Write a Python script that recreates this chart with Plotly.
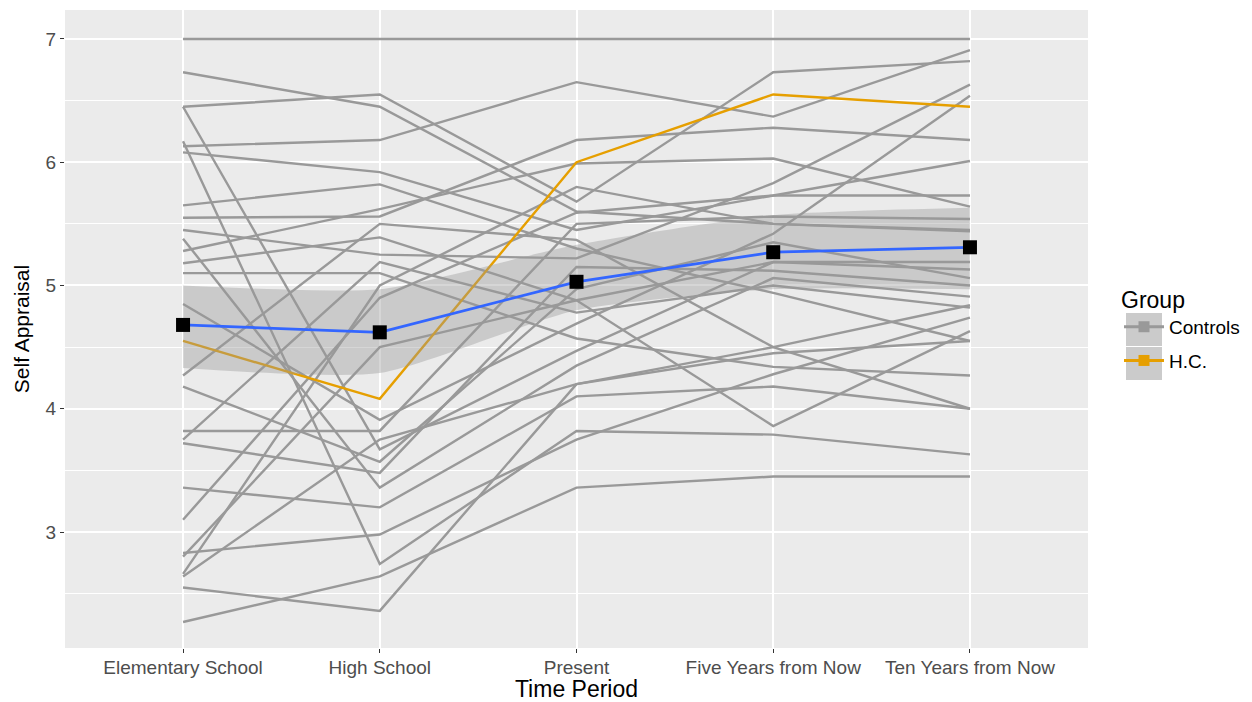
import plotly.graph_objects as go

time_periods = ["Elementary School", "High School", "Present",
                "Five Years from Now", "Ten Years from Now"]

# Self-appraisal of each control participant at the five time periods
controls = [
    [7.00, 7.00, 7.00, 7.00, 7.00],
    [6.73, 6.45, 5.60, 5.50, 5.45],
    [6.45, 6.55, 5.68, 6.73, 6.82],
    [6.45, 3.67, 4.47, 5.19, 5.13],
    [6.17, 2.74, 3.82, 3.79, 3.63],
    [6.13, 6.18, 6.65, 6.37, 6.91],
    [6.08, 5.92, 5.45, 5.73, 5.73],
    [5.65, 5.82, 5.30, 4.94, 4.55],
    [5.55, 5.56, 6.18, 6.28, 6.18],
    [5.45, 5.25, 5.22, 5.83, 6.63],
    [5.38, 3.36, 4.35, 5.06, 4.91],
    [5.28, 5.62, 5.99, 6.03, 5.64],
    [5.18, 5.39, 4.88, 3.86, 4.63],
    [5.10, 5.10, 4.57, 4.34, 4.27],
    [4.85, 3.91, 4.69, 5.42, 6.54],
    [4.27, 5.50, 5.37, 4.50, 4.00],
    [4.18, 3.57, 4.97, 5.35, 5.06],
    [3.82, 3.82, 5.50, 5.56, 5.54],
    [3.75, 5.19, 4.78, 5.00, 4.82],
    [3.72, 3.48, 5.15, 5.12, 5.00],
    [3.36, 3.20, 4.10, 4.18, 4.00],
    [3.10, 4.90, 5.59, 5.73, 6.01],
    [2.83, 2.98, 3.75, 4.28, 4.74],
    [2.80, 4.50, 4.88, 5.19, 5.19],
    [2.66, 5.00, 5.80, 5.50, 5.44],
    [2.64, 3.75, 4.20, 4.50, 4.84],
    [2.55, 2.36, 4.20, 4.45, 4.55],
    [2.27, 2.64, 3.36, 3.45, 3.45],
]

hc_values = [4.55, 4.08, 6.00, 6.55, 6.45]

mean_values = [4.68, 4.62, 5.03, 5.27, 5.31]
ci_lower = [4.33, 4.29, 4.80, 4.97, 4.97]
ci_upper = [5.00, 4.97, 5.33, 5.57, 5.63]

GRAY = "#999999"
ORANGE = "#E69F00"
BLUE = "#3366FF"
FONT = "Liberation Sans, Arial, Helvetica, sans-serif"

fig = go.Figure()

for vals in controls:
    fig.add_trace(go.Scatter(x=time_periods, y=vals, mode="lines",
                             line=dict(color=GRAY, width=2.4),
                             showlegend=False, hoverinfo="skip"))

fig.add_trace(go.Scatter(x=time_periods, y=hc_values, mode="lines",
                         line=dict(color=ORANGE, width=2.4),
                         showlegend=False, hoverinfo="skip"))

# confidence ribbon of the smooth
fig.add_trace(go.Scatter(x=time_periods, y=ci_upper, mode="lines",
                         line=dict(width=0, shape="spline", smoothing=0.6),
                         showlegend=False, hoverinfo="skip"))
fig.add_trace(go.Scatter(x=time_periods, y=ci_lower, mode="lines",
                         line=dict(width=0, shape="spline", smoothing=0.6),
                         fill="tonexty", fillcolor="rgba(153,153,153,0.4)",
                         showlegend=False, hoverinfo="skip"))

fig.add_trace(go.Scatter(x=time_periods, y=mean_values, mode="lines",
                         line=dict(color=BLUE, width=2.8),
                         showlegend=False, hoverinfo="skip"))
fig.add_trace(go.Scatter(x=time_periods, y=mean_values, mode="markers",
                         marker=dict(symbol="square", size=14, color="black"),
                         showlegend=False))

# legend entries
fig.add_trace(go.Scatter(x=[None], y=[None], mode="lines+markers", name="Controls",
                         line=dict(color=GRAY, width=3),
                         marker=dict(symbol="square", size=11, color=GRAY),
                         legendgroup="a"))
fig.add_trace(go.Scatter(x=[None], y=[None], mode="lines+markers", name="H.C.",
                         line=dict(color=ORANGE, width=3),
                         marker=dict(symbol="square", size=11, color=ORANGE),
                         legendgroup="b"))

# plot area in page pixels: x 65..1088, y 10..648
def px_to_paper_x(px):
    return (px - 65) / 1023.0

def px_to_paper_y(py):
    return 1 - (py - 10) / 638.0

shapes = []
for (top, bot) in [(313, 346), (347, 380)]:
    shapes.append(dict(type="rect", xref="paper", yref="paper",
                       x0=px_to_paper_x(1126), x1=px_to_paper_x(1162),
                       y0=px_to_paper_y(bot), y1=px_to_paper_y(top),
                       fillcolor="#CBCBCB", line=dict(width=0), layer="above"))

# the page body adds an 8px margin, so the figure is 8px smaller each way
fig.update_layout(
    width=1244, height=694,
    margin=dict(l=57, r=164, t=2, b=54, autoexpand=False),
    paper_bgcolor="white", plot_bgcolor="#EBEBEB",
    font=dict(family=FONT, color="black"),
    shapes=shapes,
    xaxis=dict(type="category", range=[-0.6, 4.6], automargin=False,
               showgrid=True, gridcolor="white", gridwidth=1.6,
               zeroline=False, showline=False,
               ticks="outside", ticklen=4, tickwidth=1.2, tickcolor="#333333",
               ticklabelstandoff=-2,
               tickfont=dict(size=19, color="#4D4D4D", family=FONT),
               title=dict(text="Time Period", font=dict(size=23, color="black"), standoff=0),
               fixedrange=True),
    yaxis=dict(range=[2.059, 7.235], tickvals=[3, 4, 5, 6, 7], automargin=False,
               showgrid=True, gridcolor="white", gridwidth=1.6,
               minor=dict(tickvals=[2.5, 3.5, 4.5, 5.5, 6.5], showgrid=True,
                          gridcolor="white", gridwidth=0.8, ticks=""),
               zeroline=False, showline=False,
               ticks="outside", ticklen=4, tickwidth=1.2, tickcolor="#333333",
               tickfont=dict(size=19, color="#4D4D4D", family=FONT),
               title=dict(text="Self Appraisal", font=dict(size=21, color="black"), standoff=10),
               fixedrange=True),
    legend=dict(title=dict(text="Group", font=dict(size=23, color="black")),
                font=dict(size=19, color="black"),
                x=px_to_paper_x(1119), xanchor="left",
                y=px_to_paper_y(278), yanchor="top",
                traceorder="grouped", tracegroupgap=6,
                itemwidth=40, bgcolor="rgba(0,0,0,0)"),
)

fig.write_html("out.html")
